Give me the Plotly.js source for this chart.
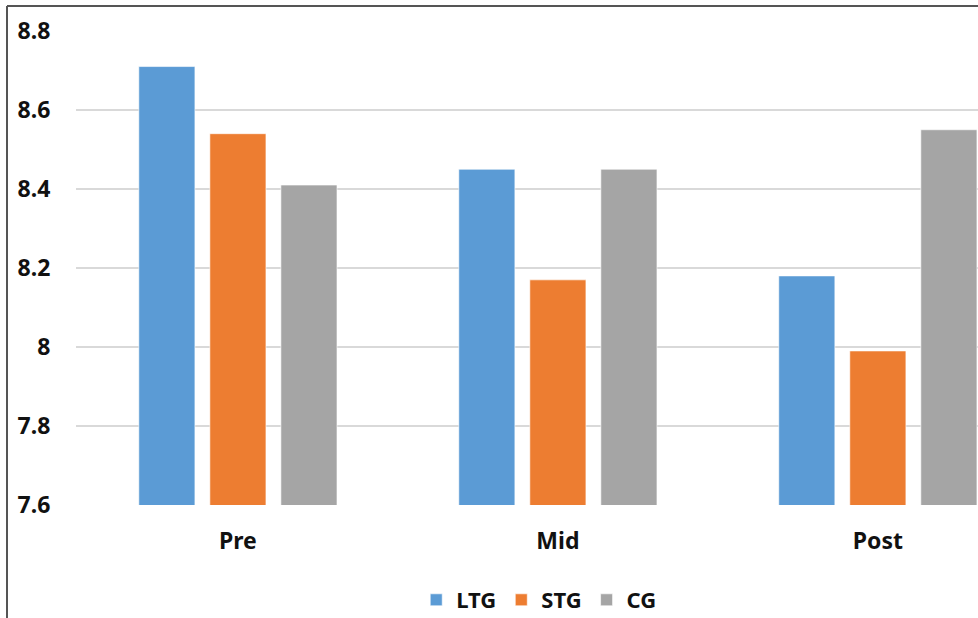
<!DOCTYPE html>
<html>
<head>
<meta charset="utf-8">
<script src="https://cdn.plot.ly/plotly-3.0.1.min.js"></script>
<style>html,body{margin:0;padding:0;background:#fff;}#chart{width:978px;height:618px;}</style>
</head>
<body>
<div id="chart"></div>
<script>
const categories = ["Pre", "Mid", "Post"];
const seriesNames = ["LTG", "STG", "CG"];
const ltg = [8.71, 8.45, 8.18];
const stg = [8.54, 8.17, 7.99];
const cg = [8.41, 8.45, 8.55];
const yTicks = [7.6, 7.8, 8, 8.2, 8.4, 8.6, 8.8];
const yTickLabels = ["7.6", "7.8", "8", "8.2", "8.4", "8.6", "8.8"];

const colors = ["#5B9BD5", "#ED7D31", "#A5A5A5"];
const values = [ltg, stg, cg];
const fontFam = "Noto Sans, Open Sans, sans-serif";

const traces = values.map((v, i) => ({
  type: "bar",
  name: seriesNames[i],
  x: categories,
  y: v,
  marker: { color: colors[i], line: { color: "rgba(255,255,255,0.6)", width: 1 } },
  hoverinfo: "x+y+name"
}));

const layout = {
  width: 978,
  height: 618,
  margin: { l: 76, r: 0, t: 31, b: 113, autoexpand: false },
  paper_bgcolor: "#fff",
  plot_bgcolor: "#fff",
  barmode: "group",
  bargap: 0.334,
  bargroupgap: 0.21,
  showlegend: true,
  legend: {
    orientation: "h",
    x: 0.513, xanchor: "center",
    yref: "container",
    y: 18 / 618, yanchor: "middle",
    font: { family: fontFam, size: 22, color: "#111", weight: "bold" },
    itemclick: false
  },
  xaxis: {
    type: "category",
    range: [-0.506, 2.313],
    showgrid: false,
    zeroline: false,
    showline: false,
    ticks: "outside",
    ticklen: 15,
    tickcolor: "rgba(0,0,0,0)",
    tickfont: { family: fontFam, size: 23, color: "#111", weight: "bold" }
  },
  yaxis: {
    range: [7.6, 8.8],
    tickvals: yTicks,
    ticktext: yTickLabels,
    showgrid: true,
    gridcolor: "#d9d9d9",
    gridwidth: 1.5,
    zeroline: false,
    showline: false,
    ticks: "outside",
    ticklen: 20,
    tickcolor: "rgba(0,0,0,0)",
    tickfont: { family: fontFam, size: 23, color: "#111", weight: "bold" }
  },
  shapes: [
    { type: "line", xref: "paper", yref: "paper", x0: (7 - 76) / 902, x1: (7 - 76) / 902, y0: 1 + 25 / 474, y1: -113 / 474, line: { color: "#555", width: 2 } },
    { type: "line", xref: "paper", yref: "paper", x0: (7 - 76) / 902, x1: 1.01, y0: 1 + 25 / 474, y1: 1 + 25 / 474, line: { color: "#555", width: 2 } }
  ]
};

Plotly.newPlot("chart", traces, layout, { displayModeBar: false, staticPlot: true });
</script>
</body>
</html>
